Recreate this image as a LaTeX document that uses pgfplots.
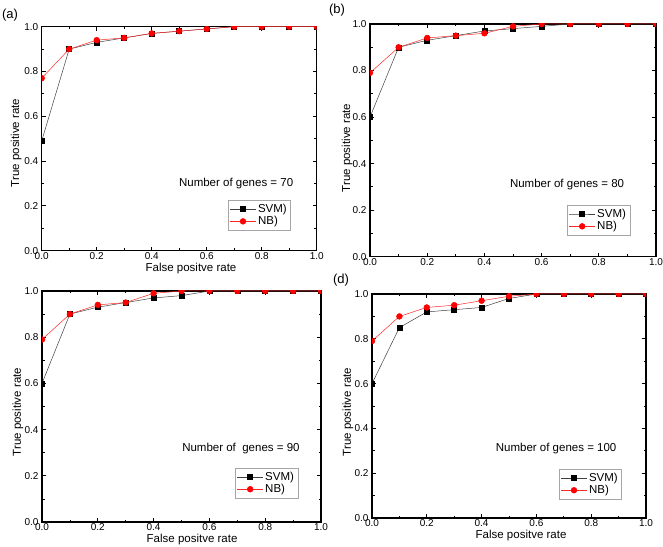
\documentclass[border=0pt]{standalone}
\usepackage{pgfplots}
\pgfplotsset{compat=1.18}
\usepackage{fontspec}
\setmainfont{Liberation Sans}

\pgfplotsset{
  rocstyle/.style={
    scale only axis,
    xmin=0, xmax=1, ymin=0, ymax=1,
    xtick={0,0.2,0.4,0.6,0.8,1.0}, ytick={0,0.2,0.4,0.6,0.8,1.0},
    minor tick num=1,
    tick align=inside,
    major tick length=4pt, minor tick length=2.5pt,
    every tick/.style={black, line width=0.8pt},
    axis line style={line width=1.2pt},
    ticklabel style={font=\fontsize{10}{12}\selectfont},
    xticklabel style={inner sep=1.5pt},
    /pgf/number format/assume math mode=true,
    /pgf/number format/.cd, fixed, fixed zerofill, precision=1, /pgfplots/.cd,
    label style={font=\fontsize{11.5}{13}\selectfont},
    clip marker paths=true,
    legend style={anchor=north west, draw=gray!70, line width=0.5pt,
      font=\fontsize{11.5}{12}\selectfont, inner sep=1.8pt, row sep=-1.5pt,
      cells={anchor=west}},
    legend image code/.code={\draw[mark repeat=2,mark phase=2] plot coordinates {(0cm,0cm) (0.45cm,0cm) (0.9cm,0cm)};},
  },
  svm/.style={black!75, line width=0.5pt, mark=square*, mark size=2.5pt, mark options={black, fill=black}},
  nb/.style={red!85!white, line width=0.5pt, mark=*, mark size=2.9pt, mark options={red, fill=red}},
}

\begin{document}
\begin{tikzpicture}
\path[use as bounding box] (0,0) rectangle (663pt,546pt);

% (a)
\begin{axis}[rocstyle, at={(41.7pt,295.3pt)}, anchor=south west, width=275pt, height=224pt,
  xlabel={False positve rate}, ylabel={True positive rate},
  xlabel style={at={(axis description cs:0.543,-0.093)}, anchor=base},
  ylabel style={at={(axis description cs:-0.093,0.481)}, anchor=center},
  legend style={at={(0.677,0.226)}}]
\addplot[svm] coordinates {(0,0.49) (0.1,0.90) (0.2,0.93) (0.3,0.95) (0.4,0.97) (0.5,0.98) (0.6,0.99) (0.7,1.0) (0.8,1.0) (0.9,1.0) (1.0,1.0)};
\addplot[nb] coordinates {(0,0.77) (0.1,0.90) (0.2,0.94) (0.3,0.95) (0.4,0.97) (0.5,0.98) (0.6,0.99) (0.7,1.0) (0.8,1.0) (0.9,1.0) (1.0,1.0)};
\legend{SVM), NB)}
\node[font=\fontsize{11.5}{13}\selectfont] at (axis cs:0.707,0.298) {Number of genes = 70};
\end{axis}

% (b)
\begin{axis}[rocstyle, at={(370pt,289.3pt)}, anchor=south west, width=286pt, height=232.7pt,
  ylabel={True positive rate},
  ylabel style={at={(axis description cs:-0.080,0.467)}, anchor=center},
  legend style={at={(0.689,0.222)}}]
\addplot[svm] coordinates {(0,0.60) (0.1,0.90) (0.2,0.93) (0.3,0.95) (0.4,0.97) (0.5,0.98) (0.6,0.99) (0.7,1.0) (0.8,1.0) (0.9,1.0) (1.0,1.0)};
\addplot[nb] coordinates {(0,0.79) (0.1,0.90) (0.2,0.94) (0.3,0.95) (0.4,0.96) (0.5,0.99) (0.6,1.0) (0.7,1.0) (0.8,1.0) (0.9,1.0) (1.0,1.0)};
\legend{SVM), NB)}
\node[font=\fontsize{11.5}{13}\selectfont] at (axis cs:0.689,0.308) {Number of genes = 80};
\end{axis}

% (c)
\begin{axis}[rocstyle, at={(42pt,24pt)}, anchor=south west, width=279pt, height=231pt,
  xlabel={False positve rate}, ylabel={True positive rate},
  xlabel style={at={(axis description cs:0.538,-0.09)}, anchor=base},
  ylabel style={at={(axis description cs:-0.086,0.476)}, anchor=center},
  legend style={at={(0.692,0.234)}}]
\addplot[svm] coordinates {(0,0.60) (0.1,0.90) (0.2,0.93) (0.3,0.95) (0.4,0.97) (0.5,0.98) (0.6,1.0) (0.7,1.0) (0.8,1.0) (0.9,1.0) (1.0,1.0)};
\addplot[nb] coordinates {(0,0.79) (0.1,0.90) (0.2,0.94) (0.3,0.95) (0.4,0.99) (0.5,1.0) (0.6,1.0) (0.7,1.0) (0.8,1.0) (0.9,1.0) (1.0,1.0)};
\legend{SVM), NB)}
\node[font=\fontsize{11.5}{13}\selectfont] at (axis cs:0.713,0.316) {Number of\ \ genes = 90};
\end{axis}

% (d)
\begin{axis}[rocstyle, at={(372pt,28pt)}, anchor=south west, width=274pt, height=224pt,
  xlabel={False positve rate}, ylabel={True positive rate},
  xlabel style={at={(axis description cs:0.544,-0.09)}, anchor=base},
  ylabel style={at={(axis description cs:-0.088,0.473)}, anchor=center},
  legend style={at={(0.682,0.219)}}]
\addplot[svm] coordinates {(0,0.60) (0.1,0.85) (0.2,0.92) (0.3,0.93) (0.4,0.94) (0.5,0.98) (0.6,1.0) (0.7,1.0) (0.8,1.0) (0.9,1.0) (1.0,1.0)};
\addplot[nb] coordinates {(0,0.79) (0.1,0.90) (0.2,0.94) (0.3,0.95) (0.4,0.97) (0.5,0.99) (0.6,1.0) (0.7,1.0) (0.8,1.0) (0.9,1.0) (1.0,1.0)};
\legend{SVM), NB)}
\node[font=\fontsize{11.5}{13}\selectfont] at (axis cs:0.672,0.308) {Number of genes = 100};
\end{axis}

\node[font=\fontsize{13}{15}\selectfont] at (10pt,531pt) {(a)};
\node[font=\fontsize{13}{15}\selectfont] at (337pt,536pt) {(b)};
\node[font=\fontsize{13}{15}\selectfont] at (341pt,266pt) {(d)};
\end{tikzpicture}
\end{document}
